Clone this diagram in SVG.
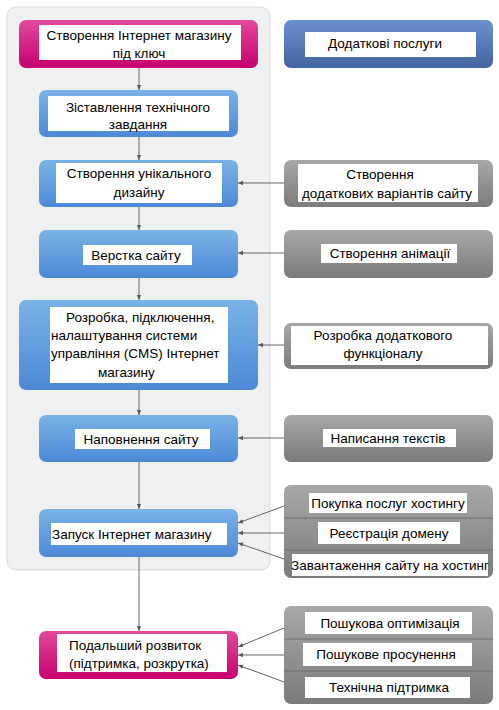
<svg xmlns="http://www.w3.org/2000/svg" width="499" height="710" viewBox="0 0 499 710">
<defs>
<linearGradient id="gBlue" x1="0" y1="0" x2="0" y2="1"><stop offset="0" stop-color="#79b3e6"/><stop offset="1" stop-color="#4e89d7"/></linearGradient>
<linearGradient id="gMag" x1="0" y1="0" x2="0" y2="1"><stop offset="0" stop-color="#e04a9c"/><stop offset="1" stop-color="#c7006f"/></linearGradient>
<linearGradient id="gNavy" x1="0" y1="0" x2="0" y2="1"><stop offset="0" stop-color="#6b90cf"/><stop offset="1" stop-color="#43659f"/></linearGradient>
<linearGradient id="gGray" x1="0" y1="0" x2="0" y2="1"><stop offset="0" stop-color="#a8a8a8"/><stop offset="1" stop-color="#7b7b7b"/></linearGradient>
<marker id="ah" viewBox="0 0 8 8" refX="7" refY="4" markerWidth="6" markerHeight="6" orient="auto"><path d="M0,1 L7,4 L0,7 z" fill="#595959"/></marker>
</defs>
<style>
text{font-family:"Liberation Sans",Arial,sans-serif;font-size:13.5px;fill:#000;text-anchor:middle;dominant-baseline:central}
.s{text-anchor:start}
.lbl{fill:#fff}
.c{stroke:#666;stroke-width:1;fill:none;marker-end:url(#ah)}
.div{stroke:#6e6e6e;stroke-width:1}
</style>
<rect x="7" y="7" width="263" height="563" rx="9" fill="#eff0f2" stroke="#d9d9d9"/>
<g id="connectors">
<line class="c" x1="139" y1="68" x2="139" y2="90"/>
<line class="c" x1="139" y1="137" x2="139" y2="160"/>
<line class="c" x1="139" y1="207" x2="139" y2="230"/>
<line class="c" x1="139" y1="278" x2="139" y2="300"/>
<line class="c" x1="139" y1="390" x2="139" y2="415"/>
<line class="c" x1="139" y1="462" x2="139" y2="509"/>
<line class="c" x1="139" y1="557" x2="139" y2="631"/>
<line class="c" x1="284" y1="183" x2="238" y2="183"/>
<line class="c" x1="284" y1="253" x2="238" y2="253"/>
<line class="c" x1="284" y1="345" x2="258" y2="345"/>
<line class="c" x1="284" y1="438" x2="238" y2="438"/>
<line class="c" x1="284" y1="506" x2="238" y2="523"/>
<line class="c" x1="284" y1="533" x2="238" y2="533"/>
<line class="c" x1="284" y1="559" x2="238" y2="543"/>
<line class="c" x1="284" y1="628" x2="238" y2="647"/>
<line class="c" x1="284" y1="655" x2="238" y2="655"/>
<line class="c" x1="284" y1="682" x2="238" y2="665"/>
</g>
<g id="n1">
<rect x="19" y="20" width="239" height="48" rx="7" fill="url(#gMag)"/>
<rect class="lbl" x="39" y="25" width="202" height="35"/>
<text x="139" y="35">Створення Інтернет магазину</text>
<text x="139" y="53">під ключ</text>
</g>
<g id="n2">
<rect x="39" y="90" width="199" height="47" rx="7" fill="url(#gBlue)"/>
<rect class="lbl" x="48" y="96" width="181" height="35"/>
<text x="138" y="107">Зіставлення технічного</text>
<text x="138" y="124">завдання</text>
</g>
<g id="n3">
<rect x="39" y="160" width="199" height="47" rx="7" fill="url(#gBlue)"/>
<rect class="lbl" x="56" y="163" width="166" height="40"/>
<text x="139" y="173">Створення унікального</text>
<text x="139" y="192">дизайну</text>
</g>
<g id="n4">
<rect x="39" y="230" width="199" height="48" rx="7" fill="url(#gBlue)"/>
<rect class="lbl" x="83" y="245" width="109" height="20"/>
<text x="136" y="255">Верстка сайту</text>
</g>
<g id="n5">
<rect x="19" y="300" width="239" height="90" rx="7" fill="url(#gBlue)"/>
<rect class="lbl" x="50" y="307" width="178" height="76"/>
<text class="s" x="66" y="317">Розробка, підключення,</text>
<text class="s" x="51" y="335">налаштування системи</text>
<text class="s" x="51" y="353">управління (CMS) Інтернет</text>
<text class="s" x="98" y="372">магазину</text>
</g>
<g id="n6">
<rect x="39" y="415" width="199" height="47" rx="7" fill="url(#gBlue)"/>
<rect class="lbl" x="75" y="429" width="135" height="20"/>
<text x="141" y="439">Наповнення сайту</text>
</g>
<g id="n7">
<rect x="39" y="509" width="199" height="48" rx="7" fill="url(#gBlue)"/>
<rect class="lbl" x="51" y="523" width="176" height="22"/>
<text class="s" x="52" y="534">Запуск Інтернет магазину</text>
</g>
<g id="n8">
<rect x="39" y="631" width="199" height="48" rx="7" fill="url(#gMag)"/>
<rect class="lbl" x="57" y="634" width="170" height="38"/>
<text class="s" x="69" y="645">Подальший розвиток</text>
<text class="s" x="69" y="663">(підтримка, розкрутка)</text>
</g>
<g id="r0">
<rect x="284" y="20" width="209" height="48" rx="7" fill="url(#gNavy)"/>
<rect class="lbl" x="305" y="32" width="171" height="25"/>
<text x="385" y="43">Додаткові послуги</text>
</g>
<g id="r1">
<rect x="284" y="160" width="209" height="47" rx="7" fill="url(#gGray)"/>
<rect class="lbl" x="298" y="164" width="180" height="38"/>
<text x="380" y="174">Створення</text>
<text x="387" y="193">додаткових варіантів сайту</text>
</g>
<g id="r2">
<rect x="284" y="230" width="209" height="48" rx="7" fill="url(#gGray)"/>
<rect class="lbl" x="321" y="244" width="136" height="19"/>
<text x="390" y="253">Створення анімації</text>
</g>
<g id="r3">
<rect x="284" y="323" width="209" height="46" rx="7" fill="url(#gGray)"/>
<rect class="lbl" x="291" y="326" width="197" height="39"/>
<text x="383" y="335">Розробка додаткового</text>
<text x="383" y="353">функціоналу</text>
</g>
<g id="r4">
<rect x="284" y="415" width="209" height="47" rx="7" fill="url(#gGray)"/>
<rect class="lbl" x="323" y="429" width="133" height="18"/>
<text x="388" y="438">Написання текстів</text>
</g>
<g id="r5">
<rect x="284" y="485" width="209" height="93" rx="7" fill="url(#gGray)"/>
<line class="div" x1="284" y1="518" x2="493" y2="518"/>
<line class="div" x1="284" y1="550" x2="493" y2="550"/>
<rect class="lbl" x="309" y="493" width="158" height="20"/>
<text x="388" y="503">Покупка послуг хостингу</text>
<rect class="lbl" x="318" y="522" width="142" height="22"/>
<text x="389" y="533">Реєстрація домену</text>
<rect class="lbl" x="292" y="554" width="196" height="22"/>
<text x="390" y="565">Завантаження сайту на хостинг</text>
</g>
<g id="r6">
<rect x="284" y="606" width="209" height="98" rx="7" fill="url(#gGray)"/>
<line class="div" x1="284" y1="639" x2="493" y2="639"/>
<line class="div" x1="284" y1="671" x2="493" y2="671"/>
<rect class="lbl" x="305" y="612" width="167" height="22"/>
<text x="390" y="623">Пошукова оптимізація</text>
<rect class="lbl" x="303" y="643" width="169" height="23"/>
<text x="386" y="654">Пошукове просунення</text>
<rect class="lbl" x="305" y="677" width="165" height="21"/>
<text x="389" y="687">Технічна підтримка</text>
</g>
</svg>
